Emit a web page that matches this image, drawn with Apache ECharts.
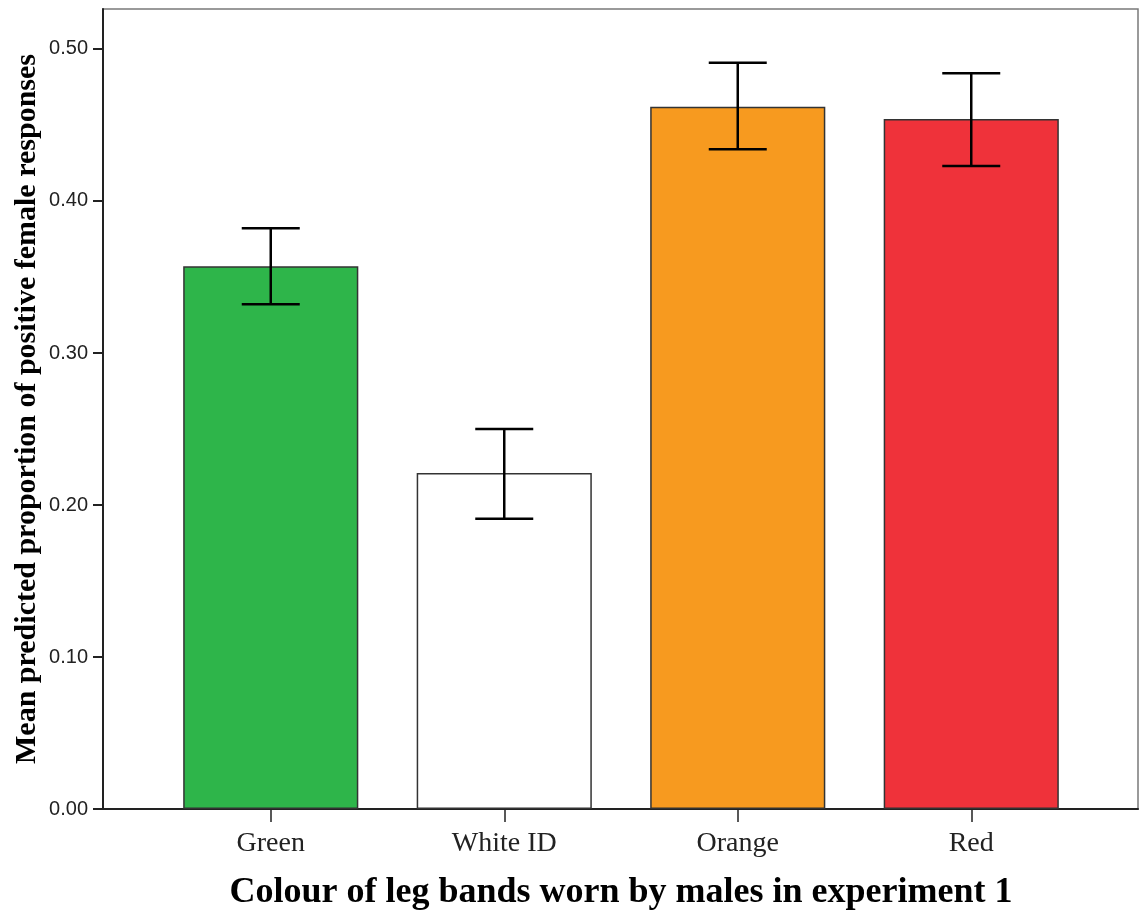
<!DOCTYPE html>
<html>
<head>
<meta charset="utf-8">
<script src="https://cdn.jsdelivr.net/npm/echarts@6/dist/echarts.min.js"></script>
<style>
  html, body { margin: 0; padding: 0; background: #fff; }
  #chart { width: 1139px; height: 915px; }
</style>
</head>
<body>
<div id="chart"></div>
<script>
// Band colours worn by males in experiment 1
var categories = ['Green', 'White ID', 'Orange', 'Red'];
// Mean predicted proportion of positive female responses
var means = [0.357, 0.221, 0.462, 0.454];
// Error bar limits
var lowerCI = [0.332, 0.191, 0.434, 0.423];
var upperCI = [0.382, 0.250, 0.491, 0.484];
var barColors = ['#2EB54A', '#FFFFFF', '#F79A1F', '#EF323A'];
var yTicks = [0.0, 0.1, 0.2, 0.3, 0.4, 0.5];

var serif = "'Liberation Serif', 'Times New Roman', serif";
var sans = "'Liberation Sans', Arial, sans-serif";

var barData = means.map(function (v, i) {
  return { value: v, itemStyle: { color: barColors[i] } };
});
var errData = categories.map(function (c, i) {
  return [i, lowerCI[i], upperCI[i]];
});

var chart = echarts.init(document.getElementById('chart'), null, { renderer: 'canvas' });

chart.setOption({
  animation: false,
  backgroundColor: '#ffffff',
  grid: [
    // inner grid holding the bars
    { left: 154, right: 51, top: 9, bottom: 106, containLabel: false, outerBoundsMode: 'none' },
    // outer frame of the plot area
    { left: 103, right: 1, top: 9, bottom: 106, show: true, outerBoundsMode: 'none',
      borderColor: '#7a7a7a', borderWidth: 1.5, backgroundColor: 'transparent' }
  ],
  xAxis: [
    {
      type: 'category', gridIndex: 0, data: categories,
      axisLine: { show: false },
      axisTick: { show: true, alignWithLabel: true, length: 13,
                  lineStyle: { color: '#222', width: 1.5 } },
      axisLabel: { fontFamily: serif, fontSize: 28, color: '#222', margin: 21 },
      name: 'Colour of leg bands worn by males in experiment 1',
      nameLocation: 'middle', nameGap: 66, nameMoveOverlap: false,
      nameTextStyle: { fontFamily: serif, fontSize: 36, fontWeight: 'bold', color: '#000' }
    },
    {
      type: 'value', gridIndex: 1, min: 0, max: 1,
      axisLine: { show: true, lineStyle: { color: '#222', width: 2 } },
      axisTick: { show: false }, axisLabel: { show: false }, splitLine: { show: false }
    }
  ],
  yAxis: [
    {
      type: 'value', gridIndex: 0, min: 0, max: 0.5263, offset: 51,
      axisLine: { show: true, lineStyle: { color: '#222', width: 2 } },
      axisTick: { show: true, length: 10, customValues: yTicks,
                  lineStyle: { color: '#222', width: 2 } },
      axisLabel: { customValues: yTicks, fontFamily: sans, fontSize: 20, color: '#222', margin: 15,
                   formatter: function (v) { return v.toFixed(2); } },
      splitLine: { show: false },
      name: 'Mean predicted proportion of positive female responses',
      nameLocation: 'middle', nameGap: 61, nameRotate: 90, nameMoveOverlap: false,
      nameTextStyle: { fontFamily: serif, fontSize: 30, fontWeight: 'bold', color: '#000' }
    },
    {
      type: 'value', gridIndex: 1, show: false, min: 0, max: 1
    }
  ],
  series: [
    {
      type: 'bar', xAxisIndex: 0, yAxisIndex: 0,
      data: barData, barWidth: '75%',
      itemStyle: { borderColor: '#333', borderWidth: 1.5 }
    },
    {
      type: 'custom', xAxisIndex: 0, yAxisIndex: 0,
      data: errData, z: 10,
      renderItem: function (params, api) {
        var x = api.value(0);
        var lo = api.coord([x, api.value(1)]);
        var hi = api.coord([x, api.value(2)]);
        var half = 29;
        var style = { stroke: '#000', lineWidth: 2.5, fill: null };
        return {
          type: 'group',
          children: [
            { type: 'line', shape: { x1: hi[0], y1: hi[1], x2: lo[0], y2: lo[1] }, style: style },
            { type: 'line', shape: { x1: hi[0] - half, y1: hi[1], x2: hi[0] + half, y2: hi[1] }, style: style },
            { type: 'line', shape: { x1: lo[0] - half, y1: lo[1], x2: lo[0] + half, y2: lo[1] }, style: style }
          ]
        };
      }
    }
  ]
});
</script>
</body>
</html>
